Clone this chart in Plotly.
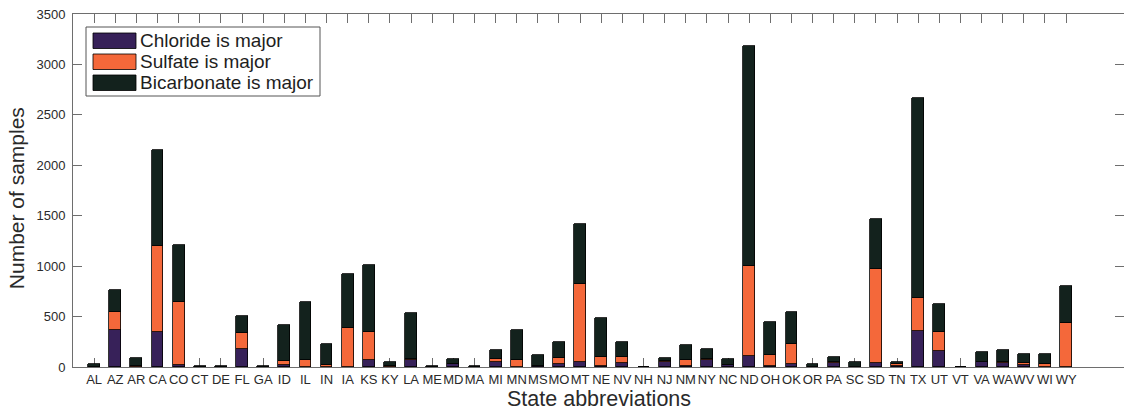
import plotly.graph_objects as go

# Water samples per state, split by the dominant anion
states = ["AL", "AZ", "AR", "CA", "CO", "CT", "DE", "FL", "GA", "ID", "IL", "IN",
          "IA", "KS", "KY", "LA", "ME", "MD", "MA", "MI", "MN", "MS", "MO", "MT",
          "NE", "NV", "NH", "NJ", "NM", "NY", "NC", "ND", "OH", "OK", "OR", "PA",
          "SC", "SD", "TN", "TX", "UT", "VT", "VA", "WA", "WV", "WI", "WY"]

chloride = [3, 370, 5, 350, 15, 3, 3, 175, 2, 20, 5, 5,
            5, 65, 5, 70, 2, 25, 3, 45, 5, 10, 30, 45,
            10, 40, 1, 50, 10, 70, 15, 110, 10, 30, 3, 35,
            3, 35, 10, 357, 160, 1, 50, 35, 20, 5, 5]

sulfate = [2, 180, 3, 850, 630, 1, 1, 160, 1, 35, 65, 15,
           385, 285, 5, 5, 1, 3, 1, 30, 65, 3, 55, 775,
           85, 55, 1, 5, 60, 8, 3, 895, 110, 195, 2, 18,
           2, 935, 20, 325, 190, 1, 3, 12, 15, 25, 435]

bicarbonate = [20, 215, 80, 950, 565, 8, 8, 175, 5, 365, 575, 205,
               532, 660, 36, 465, 4, 55, 8, 97, 297, 103, 160, 595,
               395, 150, 3, 38, 145, 104, 62, 2180, 325, 323, 25, 50,
               41, 495, 23, 1990, 275, 3, 92, 120, 90, 95, 365]

series_names = ["Chloride is major", "Sulfate is major", "Bicarbonate is major"]
series_colors = ["#372159", "#f4683a", "#13221d"]
series_values = [chloride, sulfate, bicarbonate]

x_pos = list(range(1, len(states) + 1))

fig = go.Figure()
for name, color, vals in zip(series_names, series_colors, series_values):
    fig.add_trace(go.Bar(
        x=x_pos, y=vals, name=name, width=0.56,
        marker=dict(color=color, line=dict(color="#000000", width=0.8)),
        showlegend=False,
    ))

font_family = "Liberation Sans, Arial, sans-serif"
axis_color = "#6e6e6e"

fig.update_layout(
    width=1124, height=410,
    margin=dict(l=73, r=0, t=14, b=43),
    paper_bgcolor="white", plot_bgcolor="white",
    barmode="stack", bargap=0,
    font=dict(family=font_family, size=13, color="#2a2a2a"),
    xaxis=dict(
        range=[0, 49.74], tickmode="array", tickvals=x_pos, ticktext=states,
        tickangle=0, layer="below traces",
        ticks="inside", ticklen=9, tickcolor=axis_color, tickwidth=1,
        showline=True, linecolor=axis_color, linewidth=1, mirror="ticks",
        showgrid=False, zeroline=False,
        tickfont=dict(size=13, family=font_family, color="#2a2a2a"),
    ),
    yaxis=dict(
        range=[0, 3500], tickmode="linear", tick0=0, dtick=500,
        layer="below traces",
        ticks="inside", ticklen=9, tickcolor=axis_color, tickwidth=1,
        showline=True, linecolor=axis_color, linewidth=1, mirror="ticks",
        showgrid=False, zeroline=False,
        tickfont=dict(size=13, family=font_family, color="#2a2a2a"),
        ticklabelstandoff=4,
    ),
)

# Axis titles
fig.add_annotation(text="State abbreviations", xref="paper", yref="paper",
                   x=0.5, y=-0.09, showarrow=False, xanchor="center", yanchor="middle",
                   font=dict(size=21.5, family=font_family, color="#2a2a2a"))
fig.add_annotation(text="Number of samples", xref="paper", yref="paper",
                   x=-0.053, y=0.479, textangle=-90, showarrow=False,
                   xanchor="center", yanchor="middle",
                   font=dict(size=21, family=font_family, color="#2a2a2a"))

# Legend box with wide swatches (pixel geometry converted to paper units)
plot_l, plot_w = 73, 1051
plot_t, plot_h = 14, 353


def px_x(px):
    return (px - plot_l) / plot_w


def px_y(py):
    return 1 - (py - plot_t) / plot_h


fig.add_shape(type="rect", xref="paper", yref="paper",
              x0=px_x(86), x1=px_x(320), y0=px_y(96), y1=px_y(27),
              line=dict(color="#555555", width=1), fillcolor="white", layer="above")
row_tops = [33, 54, 75]
for (name, color, top) in zip(series_names, series_colors, row_tops):
    fig.add_shape(type="rect", xref="paper", yref="paper",
                  x0=px_x(93), x1=px_x(136), y0=px_y(top + 15.5), y1=px_y(top),
                  line=dict(color="#000000", width=0.8), fillcolor=color, layer="above")
    fig.add_annotation(text=name, xref="paper", yref="paper",
                       x=px_x(138), y=px_y(top + 7.5), showarrow=False,
                       xanchor="left", yanchor="middle",
                       font=dict(size=19, family=font_family, color="#1e1e1e"))

fig.write_html("out.html")
